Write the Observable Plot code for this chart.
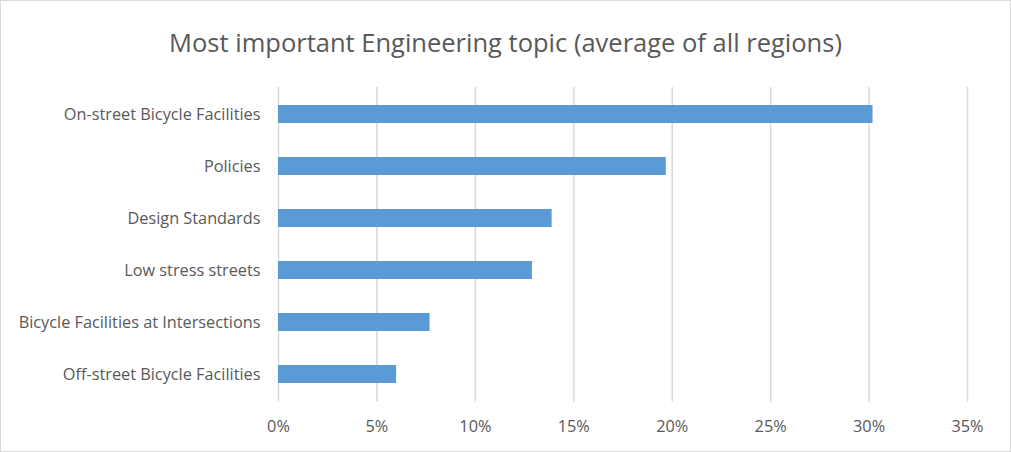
<!DOCTYPE html>
<html>
<head>
<meta charset="utf-8">
<script src="https://cdn.jsdelivr.net/npm/d3@7"></script>
<script src="https://cdn.jsdelivr.net/npm/@observablehq/plot@0.6"></script>
<style>
  html, body { margin: 0; padding: 0; background: #fff; }
  #wrap { width: 1011px; height: 452px; box-sizing: border-box; border: 1px solid #d9d9d9; background: #fff; overflow: hidden; }
  #title { height: 84px; line-height: 84px; text-align: center; font-family: "Open Sans", sans-serif; font-weight: 400; font-size: 25.5px; color: #595959; }
  #title span { position: relative; top: -1px; }
  svg { display: block; }
</style>
</head>
<body>
<div id="wrap">
  <div id="title"><span>Most important Engineering topic (average of all regions)</span></div>
  <div id="chart"></div>
</div>
<script>
const categories = [
  "On-street Bicycle Facilities",
  "Policies",
  "Design Standards",
  "Low stress streets",
  "Bicycle Facilities at Intersections",
  "Off-street Bicycle Facilities"
];
const values = [0.302, 0.197, 0.139, 0.129, 0.077, 0.060];
const xTicks = [0, 0.05, 0.10, 0.15, 0.20, 0.25, 0.30, 0.35];

const data = categories.map((c, i) => ({category: c, value: values[i]}));

const chart = Plot.plot({
  width: 1009,
  height: 366,
  marginLeft: 277,
  marginRight: 43,
  marginTop: 2,
  marginBottom: 49.5,
  style: {fontFamily: "'Open Sans', sans-serif", fontSize: "16.3px", color: "#595959", background: "#fff"},
  x: {domain: [0, 0.35], ticks: xTicks, tickFormat: d => Math.round(d * 100) + "%", tickSize: 0, tickPadding: 18, label: null},
  y: {domain: categories, paddingInner: 0.647, paddingOuter: 0.3235, tickSize: 0, tickPadding: 18, label: null},
  marks: [
    Plot.ruleX(xTicks, {stroke: "#d9d9d9", strokeWidth: 1.5}),
    Plot.barX(data, {x: "value", y: "category", fill: "#5b9bd5"})
  ]
});
document.getElementById("chart").appendChild(chart);
</script>
</body>
</html>
